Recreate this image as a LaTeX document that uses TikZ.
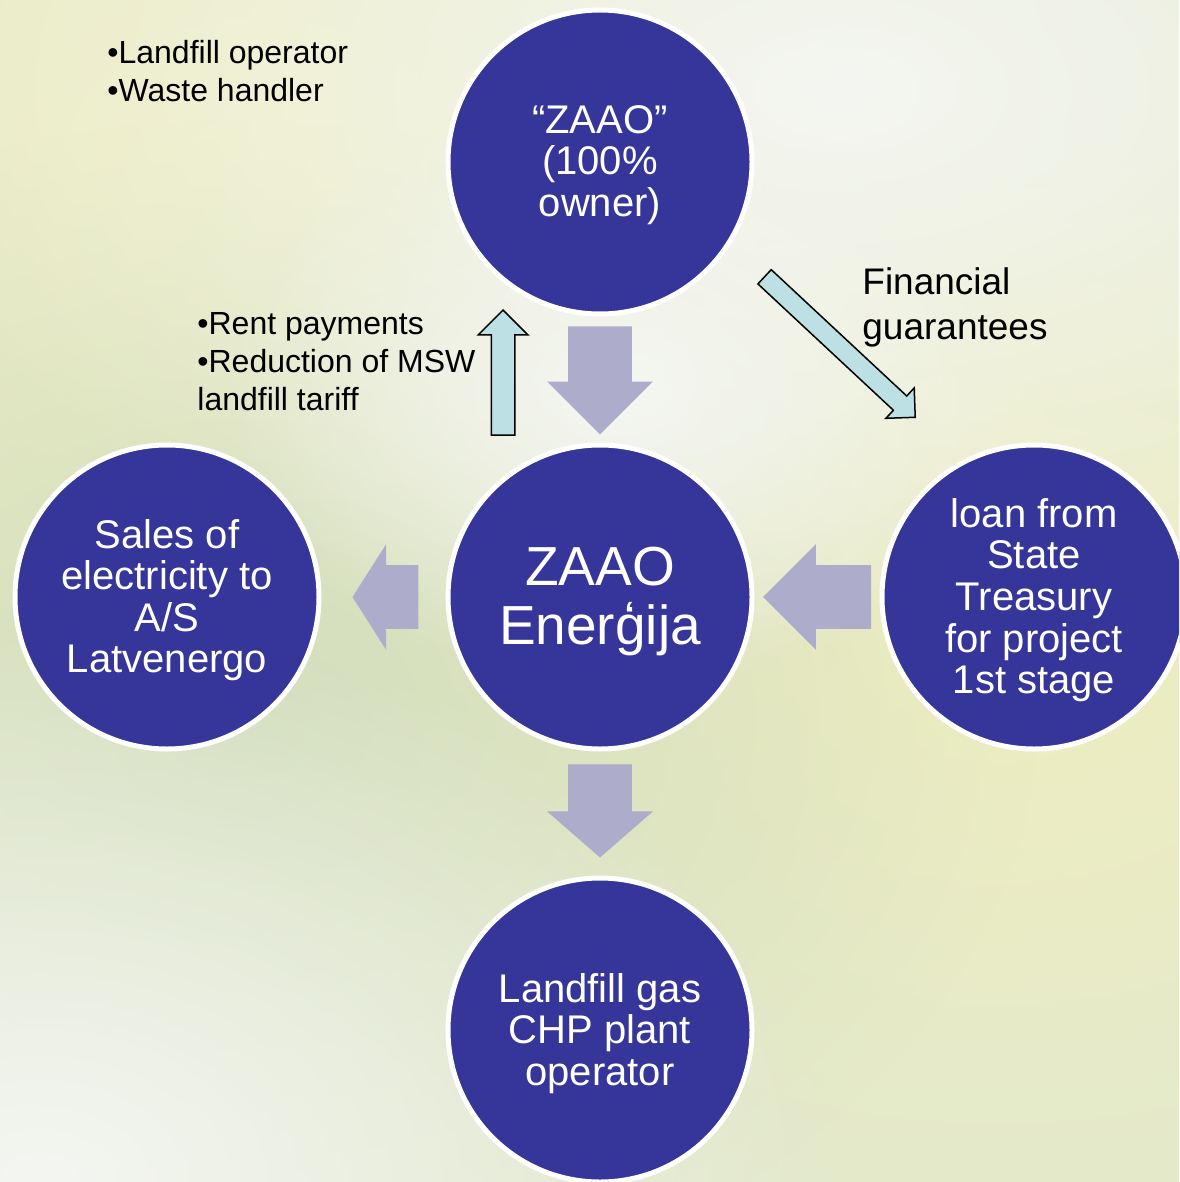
\documentclass[tikz,border=0pt]{standalone}
\usepackage{fontspec}
\setmainfont{Liberation Sans}
\usetikzlibrary{shapes,arrows,positioning,calc,fadings}
\definecolor{zaaoblue}{HTML}{35359A}
\definecolor{flowgrey}{HTML}{ADADCB}
\definecolor{linkcyan}{HTML}{BDE0E5}
\definecolor{bgleaf}{HTML}{E3E9CC}
\definecolor{bgyellow}{HTML}{EFEEC0}
\definecolor{bggreen}{HTML}{D3DEBD}
\definecolor{bglight}{HTML}{F4F6F2}
\tikzfading[name=softspot, inner color=transparent!0, outer color=transparent!100]
\tikzstyle{party} = [circle, draw=white, line width=2.5pt, fill=zaaoblue, text=white, minimum size=152pt, inner sep=0pt, align=center, text depth=1pt, font=\fontsize{20pt}{20.75pt}\selectfont]
\tikzstyle{flow} = [single arrow, draw=none, fill=flowgrey, inner xsep=0pt, inner ysep=15.75pt, single arrow head extend=10.5pt, minimum width=1pt]
\tikzstyle{link} = [single arrow, draw=black, line width=0.75pt, fill=linkcyan, inner xsep=0pt, minimum width=1pt]
\tikzstyle{note} = [anchor=north west, inner sep=0pt, align=left, font=\fontsize{16pt}{19pt}\selectfont]
\tikzstyle{tint} = [path fading=softspot]

\begin{document}
\begin{tikzpicture}[x=0.5pt, y=-0.5pt]
\clip (0,0) rectangle (1179,1182);
% leaf photo behind, only as soft tints
\fill[bgleaf] (0,0) rectangle (1179,1182);
\fill[tint, bgyellow] (260,180) ellipse (1000 and 800);
\fill[tint, bgyellow] (1000,640) ellipse (800 and 600);
\fill[tint, bggreen] (240,720) ellipse (800 and 600);
\fill[tint, bglight] (840,90) ellipse (1000 and 560);
\fill[tint, bglight] (620,390) ellipse (400 and 300);
\fill[tint, bglight] (40,1180) ellipse (800 and 560);

\node[party] (owner) at (600,162) {“ZAAO”\\(100\%\\owner)};
\node[party, font=\fontsize{27.5pt}{29.5pt}\selectfont] (ener) at (600,597) {ZAAO\\Enerģija};
\node[party] (sales) at (167,597) {Sales of\\electricity to\\A/S\\Latvenergo};
\node[party] (loan) at (1034,597) {loan from\\State\\Treasury\\for project\\1st stage};
\node[party] (chp) at (600,1030) {Landfill gas\\CHP plant\\operator};

% block arrows between the parties
\node[flow, rotate=270, minimum height=54pt, anchor=tip] (owner-ener) at ($(ener.north)+(0,-7.5)$) {};
\node[flow, rotate=270, minimum height=46.5pt, single arrow tip angle=98, anchor=tip] (ener-chp) at ($(chp.north)+(0,-17.5)$) {};
\node[flow, rotate=180, minimum height=33pt, single arrow tip angle=115, anchor=tip] (ener-sales) at ($(sales.east)+(30.5,0)$) {};
\node[flow, rotate=180, minimum height=54pt, anchor=tip] (loan-ener) at ($(ener.east)+(8,0)$) {};

\node[link, rotate=90, minimum height=62.5pt, inner ysep=5.5pt, single arrow head extend=6.5pt, anchor=tip] (ener-owner) at ($(owner.south)+(-97,-7.5)$) {};
\node[link, rotate=-43, minimum height=103pt, inner ysep=4.5pt, single arrow head extend=5.5pt, anchor=tip] (owner-loan) at ($(loan.north)+(-118,-24.5)$) {};

% texts
\node[note] (roles) at (107,40) {•Landfill operator\\•Waste handler};
\node[note] (rent) at (197,312) {•Rent payments\\•Reduction of MSW\\landfill tariff};
\node[note, font=\fontsize{18.5pt}{22.5pt}\selectfont] (guarantee) at (862,267) {Financial\\guarantees};
\end{tikzpicture}
\end{document}
